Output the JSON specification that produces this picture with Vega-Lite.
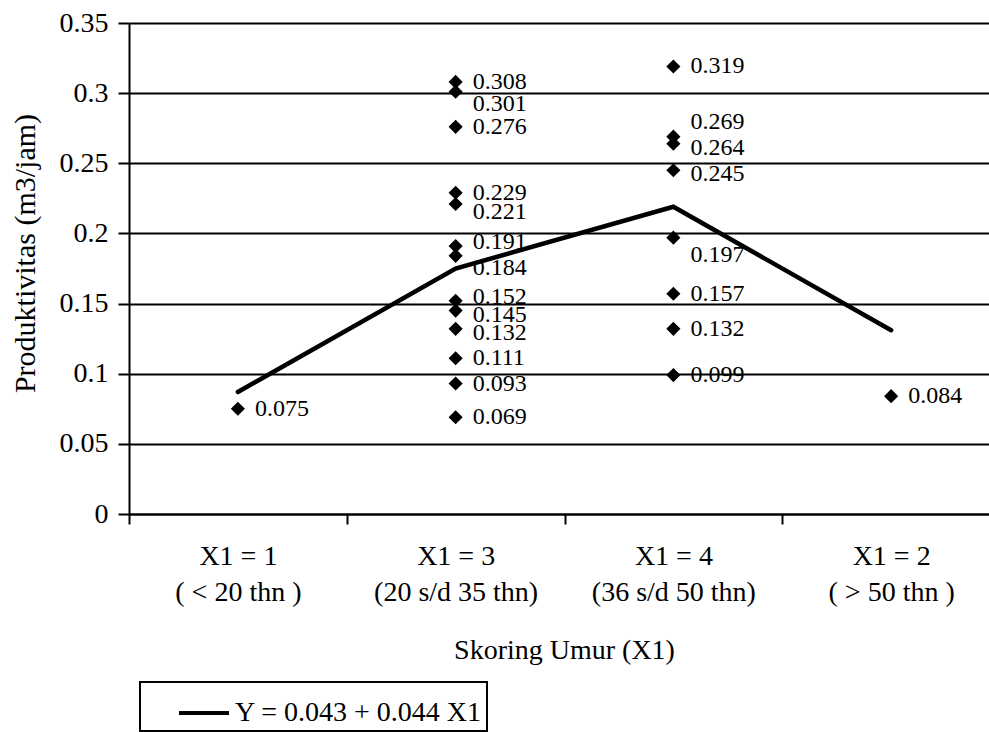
{
  "$schema": "https://vega.github.io/schema/vega-lite/v6.json",
  "autosize": {"type": "none"},
  "width": 860,
  "height": 491,
  "padding": {"left": 129, "top": 23, "right": 0, "bottom": 218},
  "config": {
    "font": "Liberation Serif",
    "view": {"stroke": null},
    "axis": {"labelColor": "black", "titleColor": "black", "titleFontWeight": "normal", "labelFont": "Liberation Serif", "titleFont": "Liberation Serif"},
    "legend": {"labelFont": "Liberation Serif"},
    "text": {"font": "Liberation Serif"}
  },
  "datasets": {
    "obs": [
      {"umur": "X1 = 1", "p": 0.075},
      {"umur": "X1 = 3", "p": 0.308},
      {"umur": "X1 = 3", "p": 0.301},
      {"umur": "X1 = 3", "p": 0.276},
      {"umur": "X1 = 3", "p": 0.229},
      {"umur": "X1 = 3", "p": 0.221},
      {"umur": "X1 = 3", "p": 0.191},
      {"umur": "X1 = 3", "p": 0.184},
      {"umur": "X1 = 3", "p": 0.152},
      {"umur": "X1 = 3", "p": 0.145},
      {"umur": "X1 = 3", "p": 0.132},
      {"umur": "X1 = 3", "p": 0.111},
      {"umur": "X1 = 3", "p": 0.093},
      {"umur": "X1 = 3", "p": 0.069},
      {"umur": "X1 = 4", "p": 0.319},
      {"umur": "X1 = 4", "p": 0.269},
      {"umur": "X1 = 4", "p": 0.264},
      {"umur": "X1 = 4", "p": 0.245},
      {"umur": "X1 = 4", "p": 0.197},
      {"umur": "X1 = 4", "p": 0.157},
      {"umur": "X1 = 4", "p": 0.132},
      {"umur": "X1 = 4", "p": 0.099},
      {"umur": "X1 = 2", "p": 0.084}
    ],
    "fit": [
      {"umur": "X1 = 1", "p": 0.087},
      {"umur": "X1 = 3", "p": 0.175},
      {"umur": "X1 = 4", "p": 0.219},
      {"umur": "X1 = 2", "p": 0.131}
    ]
  },
  "encoding": {
    "x": {
      "field": "umur",
      "type": "ordinal",
      "bandPosition": 0.5,
      "sort": ["X1 = 1", "X1 = 3", "X1 = 4", "X1 = 2"],
      "scale": {"type": "band", "range": [0, 871], "paddingInner": 0, "paddingOuter": 0},
      "axis": {
        "title": "Skoring Umur (X1)",
        "titleFontSize": 28,
        "titleX": 435,
        "titleY": 136,
        "titleBaseline": "middle",
        "titleAlign": "center",
        "labelAngle": 0,
        "labelFontSize": 28,
        "labelLineHeight": 36,
        "labelPadding": 18,
        "labelExpr": "datum.label == 'X1 = 1' ? ['X1 = 1', '( < 20 thn )'] : datum.label == 'X1 = 3' ? ['X1 = 3', '(20 s/d 35 thn)'] : datum.label == 'X1 = 4' ? ['X1 = 4', '(36 s/d 50 thn)'] : ['X1 = 2', '( > 50 thn )']",
        "tickOffset": -108.875,
        "labelOffset": 108.875,
        "tickSize": 10,
        "tickWidth": 2,
        "tickColor": "black",
        "domainColor": "black",
        "domainWidth": 2,
        "grid": false
      }
    },
    "y": {
      "field": "p",
      "type": "quantitative",
      "scale": {"domain": [0, 0.35], "nice": false, "zero": true},
      "axis": {
        "title": "Produktivitas (m3/jam)",
        "titleFontSize": 30,
        "titleX": -104,
        "titleY": 230,
        "titleAngle": -90,
        "titleAlign": "center",
        "titleBaseline": "middle",
        "values": [0, 0.05, 0.1, 0.15, 0.2, 0.25, 0.3, 0.35],
        "format": ".2~f",
        "labelFontSize": 28,
        "labelPadding": 10,
        "tickSize": 11,
        "tickWidth": 2,
        "tickColor": "black",
        "domainColor": "black",
        "domainWidth": 2,
        "grid": true,
        "gridColor": "black",
        "gridWidth": 2,
        "gridOpacity": 1
      }
    }
  },
  "layer": [
    {
      "data": {"name": "fit"},
      "mark": {"type": "line", "strokeWidth": 4.5, "strokeCap": "round", "strokeJoin": "miter"},
      "encoding": {
        "stroke": {
          "datum": "Y = 0.043 + 0.044 X1",
          "type": "nominal",
          "scale": {"range": ["black"]},
          "legend": {
            "title": null,
            "orient": "none",
            "legendX": 11,
            "legendY": 659,
            "symbolType": "stroke",
            "symbolSize": 2500,
            "symbolStrokeWidth": 4,
            "symbolStrokeColor": "black",
            "symbolOffset": 33,
            "labelFontSize": 28,
            "labelColor": "black",
            "labelOffset": 4,
            "labelLimit": 700,
            "padding": 4,
            "strokeColor": "black",
            "fillColor": "white",
            "cornerRadius": 0,
            "encode": {"legend": {"update": {"strokeWidth": {"value": 2}}}}
          }
        }
      }
    },
    {
      "data": {"name": "obs"},
      "mark": {"type": "point", "shape": "diamond", "filled": true, "color": "black", "size": 200, "opacity": 1}
    },
    {
      "data": {"name": "obs"},
      "transform": [{"filter": "!((datum.umur == 'X1 = 3' && (datum.p == 0.301 || datum.p == 0.184 || datum.p == 0.221 || datum.p == 0.191 || datum.p == 0.152 || datum.p == 0.145 || datum.p == 0.132)) || (datum.umur == 'X1 = 4' && (datum.p == 0.197 || datum.p == 0.269 || datum.p == 0.264 || datum.p == 0.245)))"}],
      "mark": {"type": "text", "align": "left", "baseline": "middle", "dx": 17, "fontSize": 24, "color": "black"},
      "encoding": {"text": {"field": "p", "type": "quantitative", "format": ".3f"}}
    },
    {
      "data": {"name": "obs"},
      "transform": [{"filter": "datum.umur == 'X1 = 3' && (datum.p == 0.301 || datum.p == 0.184)"}],
      "mark": {"type": "text", "align": "left", "baseline": "middle", "dx": 17, "dy": 12, "fontSize": 24, "color": "black"},
      "encoding": {"text": {"field": "p", "type": "quantitative", "format": ".3f"}}
    },
    {
      "data": {"name": "obs"},
      "transform": [{"filter": "datum.umur == 'X1 = 4' && datum.p == 0.197"}],
      "mark": {"type": "text", "align": "left", "baseline": "middle", "dx": 17, "dy": 17, "fontSize": 24, "color": "black"},
      "encoding": {"text": {"field": "p", "type": "quantitative", "format": ".3f"}}
    },
    {
      "data": {"name": "obs"},
      "transform": [{"filter": "datum.umur == 'X1 = 3' && datum.p == 0.221"}],
      "mark": {"type": "text", "align": "left", "baseline": "middle", "dx": 17, "dy": 8, "fontSize": 24, "color": "black"},
      "encoding": {"text": {"field": "p", "type": "quantitative", "format": ".3f"}}
    },
    {
      "data": {"name": "obs"},
      "transform": [{"filter": "datum.umur == 'X1 = 4' && datum.p == 0.269"}],
      "mark": {"type": "text", "align": "left", "baseline": "middle", "dx": 17, "dy": -15, "fontSize": 24, "color": "black"},
      "encoding": {"text": {"field": "p", "type": "quantitative", "format": ".3f"}}
    },
    {
      "data": {"name": "obs"},
      "transform": [{"filter": "datum.umur == 'X1 = 3' && (datum.p == 0.191 || datum.p == 0.152)"}],
      "mark": {"type": "text", "align": "left", "baseline": "middle", "dx": 17, "dy": -4, "fontSize": 24, "color": "black"},
      "encoding": {"text": {"field": "p", "type": "quantitative", "format": ".3f"}}
    },
    {
      "data": {"name": "obs"},
      "transform": [{"filter": "(datum.umur == 'X1 = 3' && (datum.p == 0.145 || datum.p == 0.132)) || (datum.umur == 'X1 = 4' && (datum.p == 0.264 || datum.p == 0.245))"}],
      "mark": {"type": "text", "align": "left", "baseline": "middle", "dx": 17, "dy": 4, "fontSize": 24, "color": "black"},
      "encoding": {"text": {"field": "p", "type": "quantitative", "format": ".3f"}}
    }
  ]
}
